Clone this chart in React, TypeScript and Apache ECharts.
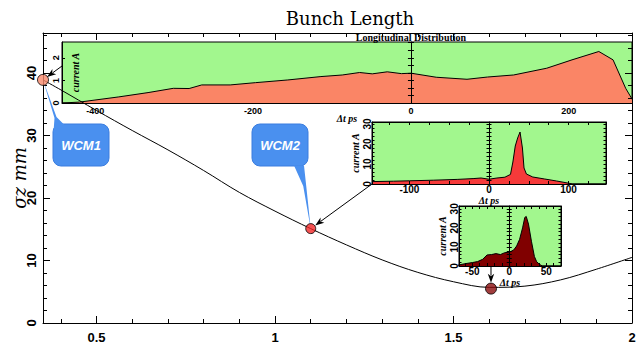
import React, { useEffect, useRef } from 'react';
import * as echarts from 'echarts';

const WIDTH = 641;
const HEIGHT = 344;

// ---------------- data ----------------
// main curve: bunch length sigma_z (mm) vs position
const lensPos = [0.35, 0.4, 0.5, 0.6, 0.7, 0.8, 0.9, 1.0, 1.1, 1.2, 1.3, 1.4, 1.5, 1.6, 1.7, 1.8, 1.9, 2.0];
const sigmaZ = [38.9, 37.3, 34.0, 30.8, 27.7, 24.4, 20.9, 17.9, 15.1, 12.5, 10.1, 8.1, 6.6, 5.7, 5.9, 6.9, 8.6, 10.5];

// measurement points
const measPos = [0.35, 1.1, 1.605];
const measSigma = [38.9, 15.1, 5.5];
const measColors = ['#f7886c', '#f22828', '#8a0c0c'];
const measSizes = [11, 10, 11];
const calloutNames = ['WCM1', 'WCM2'];

// main axes ticks / labels
const mainXLabels = [0.5, 1, 1.5, 2];
const mainXTicks = [0.4, 0.5, 0.6, 0.7, 0.8, 0.9, 1.0, 1.1, 1.2, 1.3, 1.4, 1.5, 1.6, 1.7, 1.8, 1.9];
const mainYLabels = [0, 10, 20, 30, 40];
const mainYTicks = [2, 4, 6, 8, 10, 12, 14, 16, 18, 20, 22, 24, 26, 28, 30, 32, 34, 36, 38, 40, 42, 44, 46];

// inset 1: longitudinal distribution at WCM1
const in1T = [-442, -420, -370, -333, -301, -281, -265, -229, -197, -156, -114, -87, -65, -49, -30, -12, 0, 32, 71, 97, 130, 172, 204, 238, 256, 272, 282];
const in1A = [0, 0.04, 0.27, 0.46, 0.65, 0.64, 0.8, 0.8, 0.9, 1.02, 1.17, 1.24, 1.35, 1.29, 1.38, 1.3, 1.32, 1.14, 1.05, 1.15, 1.24, 1.54, 1.91, 2.28, 1.91, 0.65, 0.06];
const in1XLabels = [-400, -200, 0, 200];
const in1YLabels = [0, 1, 2];
const in1ZeroTicks = [0, 0.333, 0.667, 1, 1.333, 1.667, 2, 2.333, 2.667];

// inset 2: distribution at WCM2
const in2T = [-147, -120, -100, -70, -40, -20, -10, 0, 10, 20, 27, 30, 33, 36, 39, 42, 44, 47, 55, 70, 85, 100, 105, 147];
const in2A = [1.2, 1.4, 1.6, 1.9, 2.3, 2.7, 3.0, 2.4, 3.0, 3.4, 4.8, 11, 19, 23, 26, 18, 8, 5, 3.5, 2.5, 1.5, 0.4, 0, 0];
const in2XLabels = [-100, 0, 100];
const in2XTicks = [-125, -100, -75, -50, -25, 0, 25, 50, 75, 100, 125];
const in2YLabels = [0, 10, 20, 30];
const in2YTicks = [2, 4, 6, 8, 10, 12, 14, 16, 18, 20, 22, 24, 26, 28, 30];

// inset 3: distribution at third point
const in3T = [-69, -60, -50, -43, -36, -30, -24, -18, -12, -6, 0, 6, 10, 14, 18, 21, 23, 26, 30, 34, 37, 41, 45, 70];
const in3A = [0.5, 1.2, 1.8, 2.3, 3.5, 5.8, 6.0, 6.5, 6.0, 7.0, 7.2, 8.4, 10.5, 14, 20, 25.5, 26, 22, 13, 5, 2.3, 0.8, 0, 0];
const in3XLabels = [-50, 0, 50];
const in3XTicks = [-60, -50, -40, -30, -20, -10, 0, 10, 20, 30, 40, 50, 60];
const in3YLabels = [0, 10, 20, 30];
const in3YTicks = [2, 4, 6, 8, 10, 12, 14, 16, 18, 20, 22, 24, 26, 28, 30];

// ---------------- layout ----------------
const MAIN = { left: 43, top: 33, right: 632, bottom: 323 };
const IN1 = { left: 62, top: 42, right: 632, bottom: 103 };
const IN2 = { left: 372, top: 122, right: 606, bottom: 184 };
const IN3 = { left: 459, top: 206, right: 561, bottom: 266 };

const GREEN = '#a2f78e';
const SALMON = '#fa8566';
const RED = '#f63a3a';
const DARKRED = '#800000';
const BLUE = '#4a90ef';

const SANS = "'Liberation Sans', Arial, sans-serif";
const SERIF = "'Liberation Serif', 'DejaVu Serif', serif";

const gridOf = (r: any, extra: any = {}) => ({
  left: r.left,
  top: r.top,
  width: r.right - r.left,
  height: r.bottom - r.top,
  containLabel: false,
  outerBoundsMode: 'none',
  ...extra,
});

function axis(o: any) {
  return {
    type: 'value',
    gridIndex: o.grid,
    position: o.position,
    min: o.min,
    max: o.max,
    z: 3,
    splitLine: { show: false },
    axisLine: {
      show: !!o.line,
      onZero: !!o.onZero,
      onZeroAxisIndex: o.onZeroAxisIndex,
      lineStyle: { color: '#000', width: 1 },
    },
    axisTick: o.ticks
      ? {
          show: true,
          inside: o.inside !== false,
          length: o.len ?? 4,
          customValues: o.ticks,
          lineStyle: { color: '#000', width: 1 },
        }
      : { show: false },
    axisLabel: o.labels
      ? {
          show: true,
          customValues: o.labels,
          fontFamily: SANS,
          fontWeight: 'bold',
          fontSize: o.fontSize ?? 10,
          color: '#000',
          margin: o.margin ?? 3,
          rotate: o.rotate ?? 0,
          hideOverlap: false,
        }
      : { show: false },
    name: o.name,
    nameLocation: 'middle',
    nameGap: o.nameGap,
    nameMoveOverlap: false,
    nameTextStyle: o.nameStyle,
  };
}

const insetName = {
  fontFamily: SERIF,
  fontWeight: 'bold',
  fontStyle: 'italic',
  fontSize: 10,
  color: '#000',
};

function buildOption(): any {
  const xAxis = [
    // 0 main bottom (labels + minor)
    axis({ grid: 0, position: 'bottom', min: 0.35, max: 2, line: true, ticks: mainXTicks, len: 4, labels: mainXLabels, fontSize: 13, margin: 8 }),
    // 1 main bottom major
    axis({ grid: 0, position: 'bottom', min: 0.35, max: 2, ticks: mainXLabels, len: 7 }),
    // 2 main top minor
    axis({ grid: 0, position: 'top', min: 0.35, max: 2, line: true, ticks: mainXTicks, len: 4 }),
    // 3 main top major
    axis({ grid: 0, position: 'top', min: 0.35, max: 2, ticks: mainXLabels, len: 7 }),
    // 4 inset1 bottom
    axis({ grid: 1, position: 'bottom', min: -442, max: 280, line: true, labels: in1XLabels, fontSize: 9, margin: 3, name: 'Δt ps', nameGap: 10, nameStyle: insetName }),
    // 5 inset2 bottom
    axis({ grid: 2, position: 'bottom', min: -147, max: 147, line: true, ticks: in2XTicks, len: 3, labels: in2XLabels, fontSize: 10, margin: 0, name: 'Δt ps', nameGap: 11, nameStyle: insetName }),
    // 6 inset2 top
    axis({ grid: 2, position: 'top', min: -147, max: 147, line: true, ticks: in2XTicks, len: 3 }),
    // 7 inset3 bottom
    axis({ grid: 3, position: 'bottom', min: -68, max: 70, line: true, ticks: in3XTicks, len: 3, labels: in3XLabels, fontSize: 10, margin: 0, name: 'Δt ps', nameGap: 11, nameStyle: insetName }),
    // 8 inset3 top
    axis({ grid: 3, position: 'top', min: -68, max: 70, line: true, ticks: in3XTicks, len: 3 }),
  ];
  const yAxis = [
    // 0 main left (labels + minor)
    axis({
      grid: 0, position: 'left', min: 0, max: 46.4, line: true, ticks: mainYTicks, len: 4, labels: mainYLabels, fontSize: 13, margin: 5, rotate: 90,
      name: 'σz mm', nameGap: 15,
      nameStyle: { fontFamily: "'DejaVu Serif', serif", fontStyle: 'italic', fontSize: 18, color: '#000' },
    }),
    // 1 main left major
    axis({ grid: 0, position: 'left', min: 0, max: 46.4, ticks: mainYLabels, len: 7 }),
    // 2 main right minor
    axis({ grid: 0, position: 'right', min: 0, max: 46.4, line: true, ticks: mainYTicks, len: 4 }),
    // 3 main right major
    axis({ grid: 0, position: 'right', min: 0, max: 46.4, ticks: mainYLabels, len: 7 }),
    // 4 inset1 left
    axis({ grid: 1, position: 'left', min: 0, max: 2.7, line: true, ticks: in1YLabels, len: 3, labels: in1YLabels, fontSize: 9, margin: 2, rotate: 90, name: 'current A', nameGap: -18, nameStyle: insetName }),
    // 5,6 inset1 zero line
    axis({ grid: 1, position: 'left', min: 0, max: 2.7, line: true, onZero: true, onZeroAxisIndex: 4, ticks: in1ZeroTicks, len: 3, inside: false }),
    axis({ grid: 1, position: 'right', min: 0, max: 2.7, onZero: true, onZeroAxisIndex: 4, ticks: in1ZeroTicks, len: 3, inside: false }),
    // 7 inset2 left
    axis({ grid: 2, position: 'left', min: 0, max: 31, line: true, ticks: in2YTicks, len: 2.5, labels: in2YLabels, fontSize: 10, margin: 0, rotate: 90, name: 'current A', nameGap: 12, nameStyle: insetName }),
    // 8 inset2 right
    axis({ grid: 2, position: 'right', min: 0, max: 31, line: true, ticks: in2YTicks, len: 2.5 }),
    // 9,10 inset2 zero
    axis({ grid: 2, position: 'left', min: 0, max: 31, line: true, onZero: true, onZeroAxisIndex: 5, ticks: in2YTicks, len: 2.5, inside: false }),
    axis({ grid: 2, position: 'right', min: 0, max: 31, onZero: true, onZeroAxisIndex: 5, ticks: in2YTicks, len: 2.5, inside: false }),
    // 11 inset3 left
    axis({ grid: 3, position: 'left', min: 0, max: 31.5, line: true, ticks: in3YTicks, len: 2.5, labels: in3YLabels, fontSize: 10, margin: 0, rotate: 90, name: 'current A', nameGap: 12, nameStyle: insetName }),
    // 12 inset3 right
    axis({ grid: 3, position: 'right', min: 0, max: 31.5, line: true, ticks: in3YTicks, len: 2.5 }),
    // 13,14 inset3 zero
    axis({ grid: 3, position: 'left', min: 0, max: 31.5, line: true, onZero: true, onZeroAxisIndex: 7, ticks: in3YTicks, len: 2.5, inside: false }),
    axis({ grid: 3, position: 'right', min: 0, max: 31.5, onZero: true, onZeroAxisIndex: 7, ticks: in3YTicks, len: 2.5, inside: false }),
  ];

  const insetSeries = (xi: number, yi: number, t: number[], a: number[], color: string) => ({
    type: 'line',
    xAxisIndex: xi,
    yAxisIndex: yi,
    data: t.map((v, i) => [v, a[i]]),
    symbol: 'none',
    showSymbol: false,
    lineStyle: { color: '#000', width: 1 },
    areaStyle: { color, opacity: 1 },
    z: 2,
    silent: true,
  });

  return {
    animation: false,
    backgroundColor: '#fff',
    title: {
      text: 'Bunch Length',
      left: 345,
      top: 4,
      textAlign: 'center',
      textStyle: { fontFamily: "'DejaVu Serif', serif", fontWeight: 'normal', fontSize: 18, color: '#000' },
    },
    grid: [
      gridOf(MAIN),
      gridOf(IN1, { show: true, backgroundColor: GREEN, borderColor: '#000', borderWidth: 1 }),
      gridOf(IN2, { show: true, backgroundColor: GREEN, borderColor: '#000', borderWidth: 1 }),
      gridOf(IN3, { show: true, backgroundColor: GREEN, borderColor: '#000', borderWidth: 1 }),
    ],
    xAxis,
    yAxis,
    series: [
      insetSeries(4, 4, in1T, in1A, SALMON),
      insetSeries(5, 7, in2T, in2A, RED),
      insetSeries(7, 11, in3T, in3A, DARKRED),
      {
        type: 'line',
        xAxisIndex: 0,
        yAxisIndex: 0,
        data: lensPos.map((x, i) => [x, sigmaZ[i]]),
        symbol: 'none',
        smooth: 0.35,
        lineStyle: { color: '#000', width: 1 },
        z: 5,
        silent: true,
      },
      {
        type: 'scatter',
        xAxisIndex: 0,
        yAxisIndex: 0,
        clip: false,
        z: 6,
        data: measPos.map((x, i) => ({
          value: [x, measSigma[i]],
          symbolSize: measSizes[i],
          itemStyle: { color: measColors[i], borderColor: '#000', borderWidth: 1 },
        })),
        silent: true,
      },
    ],
  };
}

function arrowEls(from: number[], to: number[], shorten: number) {
  const dx = to[0] - from[0];
  const dy = to[1] - from[1];
  const d = Math.hypot(dx, dy) || 1;
  const ux = dx / d, uy = dy / d;
  const tip = [to[0] - ux * shorten, to[1] - uy * shorten];
  const L = 9, w = 3.2;
  const base = [tip[0] - ux * L, tip[1] - uy * L];
  return [
    { type: 'line', z: 8, silent: true, shape: { x1: from[0], y1: from[1], x2: base[0] + ux * 2, y2: base[1] + uy * 2 }, style: { stroke: '#000', lineWidth: 1 } },
    {
      type: 'polygon', z: 8, silent: true,
      shape: { points: [tip, [base[0] - uy * w, base[1] + ux * w], [base[0] + ux * 2.5, base[1] + uy * 2.5], [base[0] + uy * w, base[1] - ux * w]] },
      style: { fill: '#000' },
    },
  ];
}

function buildGraphics(chart: any) {
  const px = measPos.map((x, i) => chart.convertToPixel({ xAxisIndex: 0, yAxisIndex: 0 }, [x, measSigma[i]]));
  const els: any[] = [];

  // inset 1 title
  els.push({
    type: 'text', z: 8, silent: true, x: 411, y: 37,
    style: { text: 'Longitudinal Distribution', fill: '#000', font: `bold 10px ${SERIF}`, align: 'center', verticalAlign: 'middle', textAlign: 'center', textVerticalAlign: 'middle' },
  });

  // arrows from insets to points
  els.push(...arrowEls([IN1.left, IN1.top + 24], px[0], 5));
  els.push(...arrowEls([IN2.left, IN2.bottom], px[1], 5.5));
  els.push(...arrowEls([px[2][0], IN3.bottom + 1], px[2], 6));

  // callouts
  const boxes = [
    { x: 53, y: 124, w: 56, h: 42 },
    { x: 252, y: 124, w: 56, h: 42 },
  ];
  boxes.forEach((b, i) => {
    const apex = px[i];
    els.push({
      type: 'rect', z: 4, silent: true,
      shape: { x: b.x, y: b.y, width: b.w, height: b.h, r: 8 },
      style: { fill: BLUE, stroke: '#3a7ddf', lineWidth: 1 },
    });
    let pts: number[][];
    if (i === 0) {
      pts = [apex, [apex[0] + 13.5, b.y - 7], [b.x + 11, b.y + 0.5], [b.x + 0.5, b.y + 8], [apex[0] + 11.5, b.y - 6]];
    } else {
      pts = [apex, [apex[0] - 4.5, b.y + b.h + 20], [b.x + 52, b.y + b.h - 0.5], [b.x + 42, b.y + b.h - 0.5], [apex[0] - 7.5, b.y + b.h + 20]];
    }
    els.push({ type: 'polygon', z: 4, silent: true, shape: { points: pts }, style: { fill: BLUE } });
    els.push({
      type: 'text', z: 5, silent: true, x: b.x + b.w / 2, y: b.y + b.h / 2 + 0.5,
      style: { text: calloutNames[i], fill: '#fff', font: `italic bold 13px ${SANS}`, align: 'center', verticalAlign: 'middle', textAlign: 'center', textVerticalAlign: 'middle' },
    });
  });
  return els;
}

export default function App() {
  const ref = useRef<HTMLDivElement>(null);
  useEffect(() => {
    const el = ref.current;
    if (!el) return;
    const chart = echarts.init(el, null, { renderer: 'svg', width: WIDTH, height: HEIGHT });
    chart.setOption(buildOption());
    chart.setOption({ graphic: buildGraphics(chart) });
    return () => {
      chart.dispose();
    };
  }, []);
  return (
    <div
      ref={ref}
      style={{ position: 'fixed', left: 0, top: 0, width: WIDTH, height: HEIGHT, background: '#fff' }}
    />
  );
}
